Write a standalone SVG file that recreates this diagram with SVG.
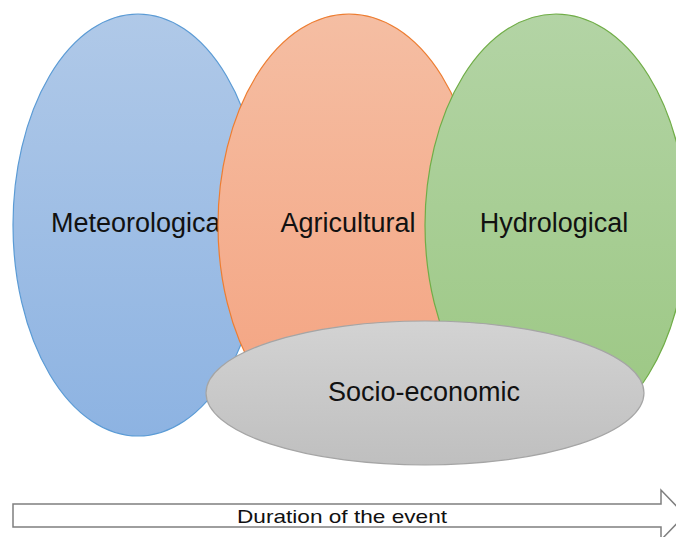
<svg xmlns="http://www.w3.org/2000/svg" width="676" height="537" viewBox="0 0 676 537">
<defs>
<linearGradient id="gBlue" x1="0" y1="0" x2="0" y2="1"><stop offset="0" stop-color="#b0c9e8"/><stop offset="1" stop-color="#8db3e2"/></linearGradient>
<linearGradient id="gOrange" x1="0" y1="0" x2="0" y2="1"><stop offset="0" stop-color="#f5bea3"/><stop offset="1" stop-color="#f4a27f"/></linearGradient>
<linearGradient id="gGreen" x1="0" y1="0" x2="0" y2="1"><stop offset="0" stop-color="#b3d4a5"/><stop offset="1" stop-color="#9bc782"/></linearGradient>
<linearGradient id="gGray" x1="0" y1="0" x2="0" y2="1"><stop offset="0" stop-color="#d3d3d3"/><stop offset="1" stop-color="#bfbfbf"/></linearGradient>
</defs>
<style>
.lbl{font-family:"Liberation Sans",Arial,sans-serif;font-size:27px;fill:#111;}
.dur{font-family:"Liberation Sans",Arial,sans-serif;font-size:19px;fill:#111;}
</style>
<rect width="676" height="537" fill="#ffffff"/>
<g id="meteorological">
<ellipse cx="138" cy="225" rx="125" ry="211" fill="url(#gBlue)" stroke="#5b9bd5" stroke-width="1.2"/>
<text class="lbl" x="51" y="232">Meteorological</text>
</g>
<g id="agricultural">
<ellipse cx="349" cy="225" rx="131" ry="211" fill="url(#gOrange)" stroke="#ed7d31" stroke-width="1.2"/>
<text class="lbl" x="348" y="232" text-anchor="middle">Agricultural</text>
</g>
<g id="hydrological">
<ellipse cx="556" cy="225" rx="131" ry="211" fill="url(#gGreen)" stroke="#70ad47" stroke-width="1.2"/>
<text class="lbl" x="554" y="232" text-anchor="middle">Hydrological</text>
</g>
<g id="socio-economic">
<ellipse cx="425" cy="393" rx="219" ry="72" fill="url(#gGray)" stroke="#a5a5a5" stroke-width="1.2"/>
<text class="lbl" x="424" y="401" text-anchor="middle">Socio-economic</text>
</g>
<g id="connectors">
<path d="M13,504 L661,504 L661,490 L685,515 L661,540 L661,527 L13,527 Z" fill="#ffffff" stroke="#7f7f7f" stroke-width="1.5"/>
<text class="dur" x="237" y="522.5" textLength="210" lengthAdjust="spacingAndGlyphs">Duration of the event</text>
</g>
</svg>
